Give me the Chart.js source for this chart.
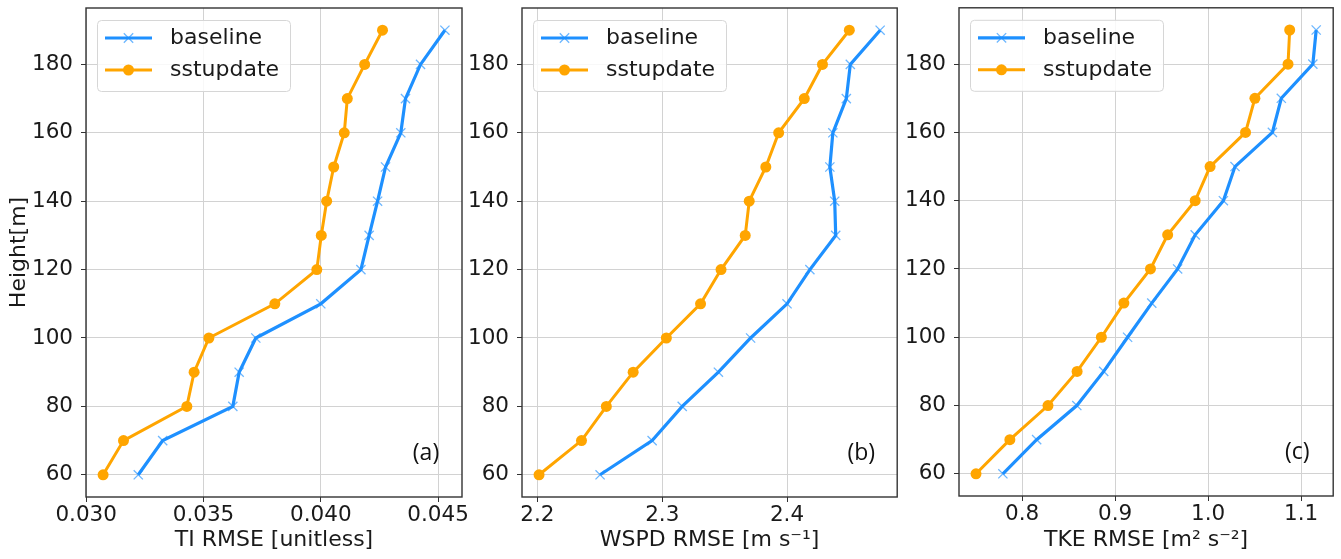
<!DOCTYPE html>
<html>
<head>
<meta charset="utf-8">
<script src="https://cdn.jsdelivr.net/npm/chart.js@4.4.0/dist/chart.umd.min.js"></script>
<style>
  html, body { margin: 0; padding: 0; background: #fff; }
  .panel { position: absolute; top: 0; height: 559px; }
</style>
</head>
<body>
<div class="panel" style="left:0;width:470px"><canvas id="chartA"></canvas></div>
<div class="panel" style="left:470px;width:435px"><canvas id="chartB"></canvas></div>
<div class="panel" style="left:905px;width:436px"><canvas id="chartC"></canvas></div>
<script>
const heights = [60, 70, 80, 90, 100, 110, 120, 130, 140, 150, 160, 170, 180, 190];

const tiBaseline = [0.03222, 0.03326, 0.03625, 0.03652, 0.03723, 0.04000, 0.04171, 0.04206, 0.04242, 0.04276, 0.04341, 0.04361, 0.04425, 0.04529];
const tiSstupdate = [0.03072, 0.03159, 0.03429, 0.03460, 0.03523, 0.03804, 0.03983, 0.04002, 0.04025, 0.04055, 0.04100, 0.04113, 0.04187, 0.04263];

const wspdBaseline = [2.2502, 2.2919, 2.3160, 2.3450, 2.3708, 2.4000, 2.4183, 2.4390, 2.4382, 2.4343, 2.4367, 2.4475, 2.4507, 2.4746];
const wspdSstupdate = [2.2013, 2.2353, 2.2552, 2.2767, 2.3033, 2.3307, 2.3471, 2.3665, 2.3697, 2.3830, 2.3933, 2.4138, 2.4284, 2.4499];

const tkeBaseline = [0.7793, 0.8156, 0.8588, 0.8877, 0.9134, 0.9394, 0.9672, 0.9861, 1.0164, 1.0289, 1.0691, 1.0787, 1.1126, 1.1162];
const tkeSstupdate = [0.7504, 0.7868, 0.8278, 0.8591, 0.8852, 0.9094, 0.9380, 0.9565, 0.9861, 1.0021, 1.0402, 1.0503, 1.0859, 1.0877];

const heightTicks = [60, 80, 100, 120, 140, 160, 180];
const tiTicks = [0.030, 0.035, 0.040, 0.045];
const tiTickLabels = ['0.030', '0.035', '0.040', '0.045'];
const wspdTicks = [2.2, 2.3, 2.4];
const wspdTickLabels = ['2.2', '2.3', '2.4'];
const tkeTicks = [0.8, 0.9, 1.0, 1.1];
const tkeTickLabels = ['0.8', '0.9', '1.0', '1.1'];

const BLUE = '#1e90ff';
const ORANGE = '#ffa500';
const FONT = "'DejaVu Sans', sans-serif";
const TEXT = '#1a1a1a';

// matplotlib-style 5% margins
function padRange(values) {
  const lo = Math.min(...values), hi = Math.max(...values);
  const m = (hi - lo) * 0.05;
  return [lo - m, hi + m];
}

const frame = {
  id: 'frame',
  afterDraw(chart) {
    const { ctx, chartArea: a } = chart;
    ctx.save();
    ctx.strokeStyle = '#333';
    ctx.lineWidth = 1.4;
    ctx.strokeRect(a.left, a.top, a.right - a.left, a.bottom - a.top);
    ctx.restore();
  }
};

const boxLegend = {
  id: 'boxLegend',
  afterDraw(chart) {
    const { ctx, chartArea: a } = chart;
    const x = a.left + 11, y = a.top + 12, w = 193, h = 71;
    ctx.save();
    ctx.fillStyle = 'rgba(255,255,255,0.85)';
    ctx.strokeStyle = '#d6d6d6';
    ctx.lineWidth = 1;
    ctx.beginPath();
    ctx.roundRect(x + 0.5, y + 0.5, w, h, 4);
    ctx.fill();
    ctx.stroke();
    chart.data.datasets.forEach((ds, i) => {
      const cy = y + 18 + i * 32;
      ctx.strokeStyle = ds.borderColor;
      ctx.lineWidth = ds.borderWidth;
      ctx.beginPath();
      ctx.moveTo(x + 8, cy);
      ctx.lineTo(x + 55, cy);
      ctx.stroke();
      const mx = x + 31.5;
      if (ds.pointStyle === 'crossRot') {
        const r = ds.pointRadius * 0.72;
        ctx.strokeStyle = ds.pointBorderColor;
        ctx.lineWidth = ds.pointBorderWidth;
        ctx.beginPath();
        ctx.moveTo(mx - r, cy - r); ctx.lineTo(mx + r, cy + r);
        ctx.moveTo(mx - r, cy + r); ctx.lineTo(mx + r, cy - r);
        ctx.stroke();
      } else {
        ctx.fillStyle = ds.pointBackgroundColor;
        ctx.beginPath();
        ctx.arc(mx, cy, ds.pointRadius, 0, Math.PI * 2);
        ctx.fill();
      }
      ctx.fillStyle = TEXT;
      ctx.font = '22px ' + FONT;
      ctx.textBaseline = 'middle';
      ctx.textAlign = 'left';
      ctx.fillText(ds.label, x + 73, cy);
    });
    ctx.restore();
  }
};

const panelTag = {
  id: 'panelTag',
  afterDraw(chart, args, opts) {
    const { ctx, chartArea: a } = chart;
    ctx.save();
    ctx.fillStyle = '#111';
    ctx.font = "23px 'Open Sans', sans-serif";
    ctx.textAlign = 'center';
    ctx.textBaseline = 'middle';
    ctx.fillText(opts.text, a.right - 36, a.bottom - 44);
    ctx.restore();
  }
};

function makePanel(id, o) {
  const xr = padRange(o.base.concat(o.sst));
  const yr = padRange(heights);
  new Chart(document.getElementById(id), {
    type: 'scatter',
    data: {
      datasets: [
        {
          label: 'baseline',
          data: heights.map((h, i) => ({ x: o.base[i], y: h })),
          showLine: true,
          borderColor: BLUE,
          borderWidth: 3.2,
          pointStyle: 'crossRot',
          pointRadius: 6.5,
          pointBorderColor: 'rgba(30,144,255,0.65)',
          pointBorderWidth: 1.3,
          pointBackgroundColor: 'rgba(0,0,0,0)',
          order: 2,
        },
        {
          label: 'sstupdate',
          data: heights.map((h, i) => ({ x: o.sst[i], y: h })),
          showLine: true,
          borderColor: ORANGE,
          borderWidth: 3,
          pointStyle: 'circle',
          pointRadius: 5.5,
          pointBorderWidth: 0,
          pointBackgroundColor: ORANGE,
          order: 1,
        },
      ],
    },
    options: {
      responsive: true,
      maintainAspectRatio: false,
      animation: false,
      events: [],
      layout: { padding: { left: 0, right: o.padRight, top: o.padTop, bottom: 0 } },
      plugins: {
        legend: { display: false },
        tooltip: { enabled: false },
        panelTag: { text: o.tag },
      },
      scales: {
        x: {
          type: 'linear',
          min: xr[0],
          max: xr[1],
          afterBuildTicks: s => { s.ticks = o.ticks.map(v => ({ value: v })); },
          afterFit: s => { s.height = o.xHeight; s.paddingLeft = 0; s.paddingRight = 0; },
          ticks: {
            color: TEXT,
            font: { family: FONT, size: 21.5 },
            padding: 1,
            maxRotation: 0,
            callback: (v, i) => o.tickLabels[i],
          },
          grid: { color: '#d2d2d2', lineWidth: 1, tickColor: '#333', tickLength: 5 },
          border: { display: false },
          title: {
            display: true,
            text: o.xTitle,
            color: TEXT,
            font: { family: FONT, size: 22 },
            padding: { top: 0, bottom: 6 },
          },
        },
        y: {
          type: 'linear',
          min: yr[0],
          max: yr[1],
          afterBuildTicks: s => { s.ticks = heightTicks.map(v => ({ value: v })); },
          afterFit: s => { s.width = o.yWidth; s.paddingTop = 0; s.paddingBottom = 0; },
          ticks: {
            color: TEXT,
            font: { family: FONT, size: 21.5 },
            padding: 8,
            callback: v => String(v),
          },
          grid: { color: '#d2d2d2', lineWidth: 1, tickColor: '#333', tickLength: 5 },
          border: { display: false },
          title: {
            display: !!o.yTitle,
            text: o.yTitle || '',
            color: TEXT,
            font: { family: FONT, size: 22 },
            padding: { top: 6, bottom: 0 },
          },
        },
      },
    },
    plugins: [frame, boxLegend, panelTag],
  });
}

makePanel('chartA', {
  base: tiBaseline, sst: tiSstupdate, ticks: tiTicks, tickLabels: tiTickLabels,
  xTitle: 'TI RMSE [unitless]', yTitle: 'Height[m]', tag: '(a)',
  yWidth: 86, xHeight: 62, padTop: 8, padRight: 8,
});
makePanel('chartB', {
  base: wspdBaseline, sst: wspdSstupdate, ticks: wspdTicks, tickLabels: wspdTickLabels,
  xTitle: 'WSPD RMSE [m s\u207B\u00B9]', tag: '(b)',
  yWidth: 52, xHeight: 62, padTop: 8, padRight: 5,
});
makePanel('chartC', {
  base: tkeBaseline, sst: tkeSstupdate, ticks: tkeTicks, tickLabels: tkeTickLabels,
  xTitle: 'TKE RMSE [m\u00B2 s\u207B\u00B2]', tag: '(c)',
  yWidth: 54, xHeight: 63, padTop: 6, padRight: 5,
});
</script>
</body>
</html>
